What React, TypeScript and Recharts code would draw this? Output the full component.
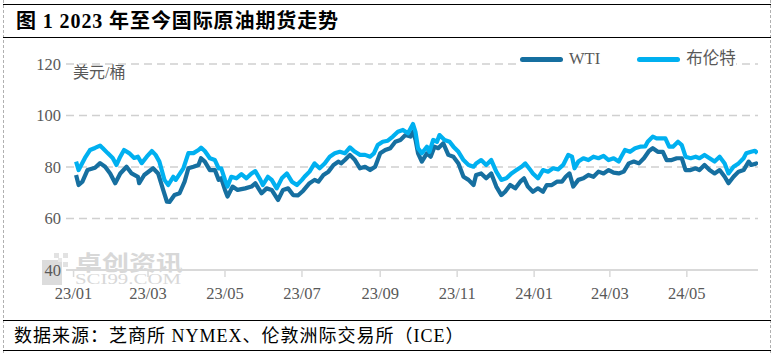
import React from "react";
import { LineChart, Line, XAxis, YAxis, CartesianGrid } from "recharts";

// x values are days counted from 2023-01-01
const brentDays = [
  2, 4, 9, 13, 17, 21, 23, 27, 31, 34, 37, 40, 44, 48, 51, 54, 58, 62, 65, 68, 72, 75, 79, 81, 87, 91, 95, 99,
  101, 104, 108, 112, 115, 117, 120, 122, 125, 129, 133, 137, 141, 144, 148, 150, 154, 157, 161, 165, 169, 173,
  177, 181, 183, 187, 191, 195, 199, 203, 207, 211, 215, 219, 223, 227, 231, 235, 238, 241, 245, 249, 253, 257,
  261, 265, 269, 271, 273, 276, 280, 282, 285, 288, 290, 294, 298, 301, 305, 309, 313, 317, 319, 323, 327, 331,
  335, 339, 343, 347, 351, 355, 358, 362, 364, 368, 372, 376, 380, 384, 388, 392, 395, 397, 400, 404, 408, 412,
  416, 420, 424, 428, 432, 434, 437, 441, 445, 449, 453, 455, 459, 462, 466, 469, 472, 475, 479, 482, 485, 489,
  493, 496, 500, 504, 508, 512, 516, 519, 523, 527, 531, 533, 537, 540, 542,
];
const brentValues = [
  82.1, 78.8, 83.5, 86.6, 87.4, 88.3, 87.4, 85.4, 83.5, 80.8, 84.0, 86.6, 85.4, 83.5, 84.0, 81.5, 84.0, 86.2, 84.7,
  82.1, 75.0, 73.0, 76.2, 75.0, 79.5, 85.4, 85.4, 86.6, 87.5, 86.2, 83.4, 82.7, 79.5, 79.5, 75.0, 72.4, 76.2, 75.6,
  77.2, 75.6, 77.5, 78.4, 75.0, 73.0, 76.2, 75.0, 71.7, 75.6, 77.5, 74.3, 73.0, 75.0, 76.2, 78.2, 81.4, 79.5, 81.4,
  84.0, 85.3, 85.9, 85.3, 87.6, 85.9, 84.7, 84.7, 84.0, 85.3, 88.5, 89.8, 90.2, 91.8, 93.7, 94.4, 93.1, 96.7, 93.5,
  87.3, 85.3, 87.9, 85.9, 90.5, 89.8, 92.4, 90.5, 89.8, 87.9, 85.9, 82.7, 80.8, 80.1, 81.4, 82.7, 80.8, 82.7, 78.2,
  75.0, 75.6, 77.5, 78.8, 80.1, 81.4, 78.8, 77.5, 75.6, 78.8, 78.2, 79.5, 79.1, 80.8, 84.7, 84.0, 79.5, 82.1, 83.4,
  82.7, 84.0, 83.4, 84.3, 82.7, 83.4, 82.1, 84.0, 86.6, 85.9, 87.3, 87.9, 88.0, 89.8, 91.8, 91.1, 91.1, 91.1, 87.9,
  87.9, 89.8, 88.5, 84.0, 83.4, 84.0, 83.4, 84.7, 83.4, 82.1, 84.0, 81.4, 77.5, 80.1, 81.4, 83.4, 85.3, 85.9, 86.3,
  85.3,
];

const wtiDays = [
  2, 4, 7, 11, 17, 21, 25, 29, 33, 37, 42, 46, 51, 52, 56, 63, 67, 71, 74, 76, 80, 84, 88, 91, 95, 99, 101, 104,
  108, 112, 115, 117, 120, 122, 126, 130, 136, 141, 144, 149, 153, 157, 162, 166, 170, 174, 178, 182, 187, 191,
  194, 198, 202, 206, 210, 212, 215, 219, 223, 227, 231, 235, 239, 243, 247, 251, 255, 259, 263, 267, 269, 271,
  273, 276, 280, 283, 286, 289, 293, 297, 301, 305, 309, 313, 317, 319, 323, 327, 331, 335, 339, 342, 346, 350,
  354, 357, 360, 364, 368, 372, 375, 379, 383, 387, 390, 393, 396, 400, 404, 408, 412, 416, 420, 424, 428, 432,
  436, 440, 444, 448, 452, 456, 459, 463, 467, 470, 474, 478, 482, 485, 489, 493, 496, 500, 504, 508, 512, 516,
  519, 523, 527, 531, 535, 537, 541, 542,
];
const wtiValues = [
  76.9, 73.0, 74.3, 78.8, 79.7, 81.5, 80.1, 77.5, 73.7, 77.5, 80.1, 77.5, 76.2, 73.7, 76.9, 79.5, 77.5, 71.1, 66.5,
  66.4, 69.1, 69.8, 74.3, 79.5, 80.1, 80.8, 83.4, 82.1, 78.8, 78.8, 75.0, 75.6, 71.1, 68.5, 72.4, 71.1, 71.7, 72.4,
  73.7, 69.8, 71.7, 71.1, 67.2, 71.1, 71.7, 69.1, 69.0, 70.8, 73.7, 75.0, 74.3, 76.9, 78.2, 80.8, 82.1, 81.4, 82.7,
  84.7, 82.7, 79.5, 80.1, 78.8, 80.1, 85.3, 86.6, 87.3, 89.8, 90.5, 92.4, 91.8, 93.7, 90.5, 85.3, 82.1, 85.3, 84.0,
  87.9, 87.3, 89.2, 84.7, 84.0, 81.4, 76.2, 75.0, 73.0, 76.9, 77.5, 75.6, 77.5, 72.4, 69.1, 70.4, 73.0, 71.7, 74.3,
  75.6, 72.4, 70.4, 71.7, 70.4, 73.0, 73.0, 74.3, 74.3, 76.2, 77.5, 72.4, 75.0, 75.6, 76.9, 76.2, 78.2, 77.5, 78.8,
  77.8, 77.5, 78.2, 81.4, 82.1, 81.4, 83.4, 86.2, 87.3, 85.9, 85.9, 82.7, 82.7, 83.4, 83.4, 78.8, 78.8, 79.5, 78.8,
  80.8, 78.8, 77.5, 78.8, 76.2, 73.7, 76.2, 78.2, 78.8, 82.1, 80.8, 81.4, 80.8,
];

const tickLabels = ["23/01", "23/03", "23/05", "23/07", "23/09", "23/11", "24/01", "24/03", "24/05"];
const yTicks = [40, 60, 80, 100, 120];

const WTI_COLOR = "#166fa0";
const BRENT_COLOR = "#00b0f0";
const SERIF = "'Liberation Serif', 'Noto Sans CJK SC', serif";

const dayOf = (label: string) => {
  const [yy, mm] = label.split("/").map(Number);
  return Math.round((Date.UTC(2000 + yy, mm - 1, 1) - Date.UTC(2023, 0, 1)) / 86400000);
};
const tickDays = tickLabels.map(dayOf);
const labelByDay: Record<number, string> = {};
tickDays.forEach((d, i) => (labelByDay[d] = tickLabels[i]));

const wtiData = wtiDays.map((d, i) => ({ d, v: wtiValues[i] }));
const brentData = brentDays.map((d, i) => ({ d, v: brentValues[i] }));

const hLine = (top: number): React.CSSProperties => ({
  position: "absolute", left: 3, width: 768, top, height: 0, borderTop: "1.5px solid #000",
});

export default function App() {
  return (
    <div style={{ position: "absolute", left: 0, top: 0, width: 773, height: 353, background: "#fff", overflow: "hidden" }}>
      {/* side borders */}
      <div style={{ position: "absolute", left: 3, top: 0, height: 353, borderLeft: "1px dashed #b0b0b0" }} />
      <div style={{ position: "absolute", left: 770, top: 0, height: 353, borderLeft: "1px dashed #b0b0b0" }} />
      <div style={hLine(4)} />
      <div style={hLine(37)} />
      <div style={hLine(320)} />
      <div style={hLine(350)} />

      {/* title */}
      <div style={{ position: "absolute", left: 16, top: 9, fontFamily: SERIF, fontWeight: 700, fontSize: 20, letterSpacing: 0.9, lineHeight: "24px", color: "#000", whiteSpace: "nowrap" }}>
        图 1 2023 年至今国际原油期货走势
      </div>

      {/* watermark */}
      <svg width={230} height={45} style={{ position: "absolute", left: 38, top: 248 }}>
        <rect x={4} y={12} width={20} height={25} fill="#dcdcdc" />
        <rect x={16} y={5} width={5} height={5} fill="#e2e2e2" />
        <rect x={25} y={5} width={5} height={5} fill="#e2e2e2" />
        <rect x={25} y={14} width={5} height={5} fill="#e2e2e2" />
        <rect x={20} y={10} width={4} height={4} fill="#e8e8e8" />
        <text x={37} y={22} fontSize={21} fontWeight={700} fill="#d8d8d8" fontFamily="'Noto Sans CJK SC'" textLength={108} lengthAdjust="spacingAndGlyphs">
          卓创资讯
        </text>
        <text x={37} y={36} fontSize={14} fill="#d8d8d8" fontFamily="'Liberation Serif'" textLength={106} lengthAdjust="spacingAndGlyphs">
          SCI99.COM
        </text>
      </svg>

      <div style={{ position: "absolute", left: 0, top: 0 }}>
        <LineChart width={773} height={353} margin={{ top: 64, right: 15, bottom: 53, left: 26 }}>
          <CartesianGrid vertical={false} stroke="#d0d0d0" strokeDasharray="8 5" strokeWidth={1.5} />
          <XAxis
            type="number"
            dataKey="d"
            domain={[-6, 542.4]}
            ticks={tickDays}
            allowDataOverflow
            height={30}
            tickSize={7}
            tickMargin={10}
            interval={0}
            axisLine={{ stroke: "#d9d9d9", strokeWidth: 2 }}
            tickLine={{ stroke: "#d9d9d9", strokeWidth: 1.5 }}
            tick={{ fill: "#595959", fontSize: 16.5, fontFamily: SERIF }}
            tickFormatter={(d: number) => labelByDay[d] ?? ""}
          />
          <YAxis
            type="number"
            domain={[40, 120]}
            ticks={yTicks}
            width={40}
            tickSize={3}
            tickMargin={2}
            axisLine={false}
            tickLine={false}
            tick={{ fill: "#595959", fontSize: 16.5, fontFamily: SERIF }}
          />
          <Line data={wtiData} dataKey="v" name="WTI" type="linear" stroke={WTI_COLOR} strokeWidth={4.2} strokeLinejoin="round" dot={false} isAnimationActive={false} />
          <Line data={brentData} dataKey="v" name="布伦特" type="linear" stroke={BRENT_COLOR} strokeWidth={4.2} strokeLinejoin="round" dot={false} isAnimationActive={false} />
        </LineChart>
      </div>

      {/* unit label */}
      <div style={{ position: "absolute", left: 73, top: 64, fontFamily: SERIF, fontSize: 16, lineHeight: "18px", color: "#595959" }}>
        美元/桶
      </div>

      {/* legend */}
      <div style={{ position: "absolute", left: 520, top: 49, display: "flex", alignItems: "center", fontFamily: SERIF, fontSize: 16.5, color: "#595959", lineHeight: "20px", background: "#fff" }}>
        <span style={{ display: "inline-block", width: 43, height: 5, borderRadius: 3, background: WTI_COLOR, marginRight: 6 }} />
        <span style={{ marginRight: 37 }}>WTI</span>
        <span style={{ display: "inline-block", width: 43, height: 5, borderRadius: 3, background: BRENT_COLOR, marginRight: 6 }} />
        <span>布伦特</span>
      </div>

      {/* source */}
      <div style={{ position: "absolute", left: 14, top: 325, fontFamily: SERIF, fontSize: 18, letterSpacing: 1, lineHeight: "22px", color: "#000", whiteSpace: "nowrap" }}>
        数据来源：芝商所 NYMEX、伦敦洲际交易所（ICE）
      </div>
    </div>
  );
}
